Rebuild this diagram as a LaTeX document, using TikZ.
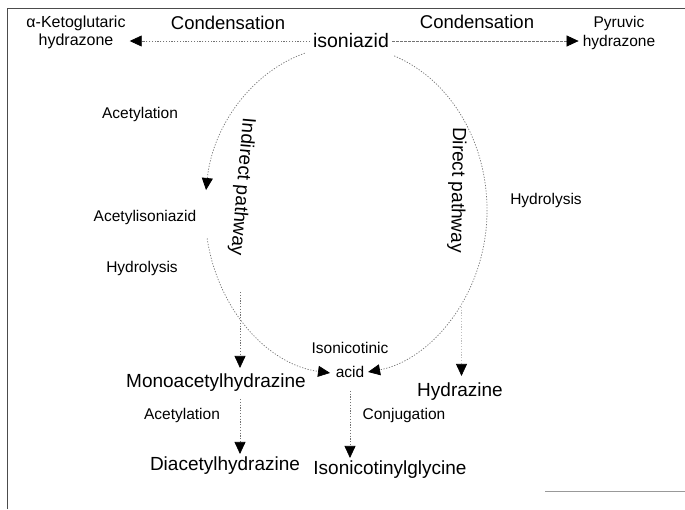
\documentclass[tikz,border=0pt]{standalone}
\usepackage{fontspec}
\setmainfont{Liberation Sans}
\usetikzlibrary{arrows.meta,calc}
\begin{document}
\begin{tikzpicture}[x=1pt,y=1pt,
  lbl/.style={inner sep=3pt, align=center, font=\fontsize{15.5}{19}\selectfont},
  big/.style={inner sep=3pt, font=\fontsize{19}{21}\selectfont},
  cond/.style={inner sep=2pt, font=\fontsize{18.5}{20}\selectfont},
  prod/.style={inner sep=4pt, align=center},
  pathway/.style={inner sep=1pt, font=\fontsize{19}{21}\selectfont},
  conn/.style={draw=black!55, line width=0.7pt, dash pattern=on 1.2pt off 1.6pt,
    -{Triangle[length=12pt,width=11pt,color=black]}},
]
\useasboundingbox (0,0) rectangle (685,-509);
\fill[white] (0,0) rectangle (685,-509);
% frame
\draw[black!70, line width=0.8pt] (7,-509) -- (7,-8) -- (685,-8);
\draw[black!40, line width=0.8pt] (545,-491) -- (685,-491);

% top row
\node[big, font=\fontsize{19.5}{21}\selectfont] (iso) at (351,-41) {isoniazid};
\node[prod, font=\fontsize{16}{18}\selectfont] (ket) at (76,-32) {α-Ketoglutaric\\hydrazone};
\node[prod, font=\fontsize{15.5}{19}\selectfont] (pyr) at (619,-33) {Pyruvic\\hydrazone};
\node[cond] (c1) at (228,-23) {Condensation};
\node[cond] (c2) at (477,-22) {Condensation};
\draw[conn] (iso.west) -- (iso.west -| ket.east);
\draw[conn, dash pattern=on 3pt off 1pt] (iso.east) -- (iso.east -| pyr.west);

% circle (ellipse)
\coordinate (C) at (346,-210);
\coordinate (l1) at ($(C)+({141*cos(107)},{164*sin(107)})$);
\coordinate (l2) at ($(C)+({141*cos(190)},{164*sin(190)})$);
\coordinate (r1) at ($(C)+({141*cos(70)},{164*sin(70)})$);
\coordinate (m0) at (240,-292);
\coordinate (h0) at ($(C)+({141*cos(-35)},{164*sin(-35)})$);

\node[lbl] (acet1) at (140,-114) {Acetylation};
\node[lbl] (aciso) at (145,-217) {Acetylisoniazid};
\node[lbl] (hyd1) at (142,-268) {Hydrolysis};
\node[lbl] (hyd2) at (546,-200) {Hydrolysis};
\node[lbl, font=\fontsize{15.5}{24}\selectfont] (acid) at (350,-360) {Isonicotinic\\acid};

\draw[conn] (l1) arc[start angle=107, end angle=173, x radius=141, y radius=164];
\draw[conn] (l2) arc[start angle=190, end angle=263.5, x radius=141, y radius=164];
\draw[conn] (r1) arc[start angle=70, end angle=-81, x radius=141, y radius=164];

\node[pathway, rotate=-95] (indir) at (242,-187) {Indirect pathway};
\node[pathway, rotate=-91] (dir) at (457,-190) {Direct pathway};

% bottom
\node[big] (mono) at (216,-383) {Monoacetylhydrazine};
\node[big] (hydz) at (460,-392) {Hydrazine};
\node[big] (di) at (225,-466) {Diacetylhydrazine};
\node[big] (gly) at (390,-470) {Isonicotinylglycine};
\node[lbl] (acet2) at (182,-415) {Acetylation};
\node[lbl] (conj) at (404,-415) {Conjugation};

\draw[conn, shorten >=3pt] (m0) -- (m0 |- mono.north);
\draw[conn, draw=black!25, shorten >=4pt] (h0) -- (h0 |- hydz.north);
\draw[conn, shorten <=4pt] (m0 |- mono.south) -- (m0 |- di.north);
\draw[conn, shorten <=10pt] (acid.south) -- (acid.south |- gly.north);
\end{tikzpicture}
\end{document}
